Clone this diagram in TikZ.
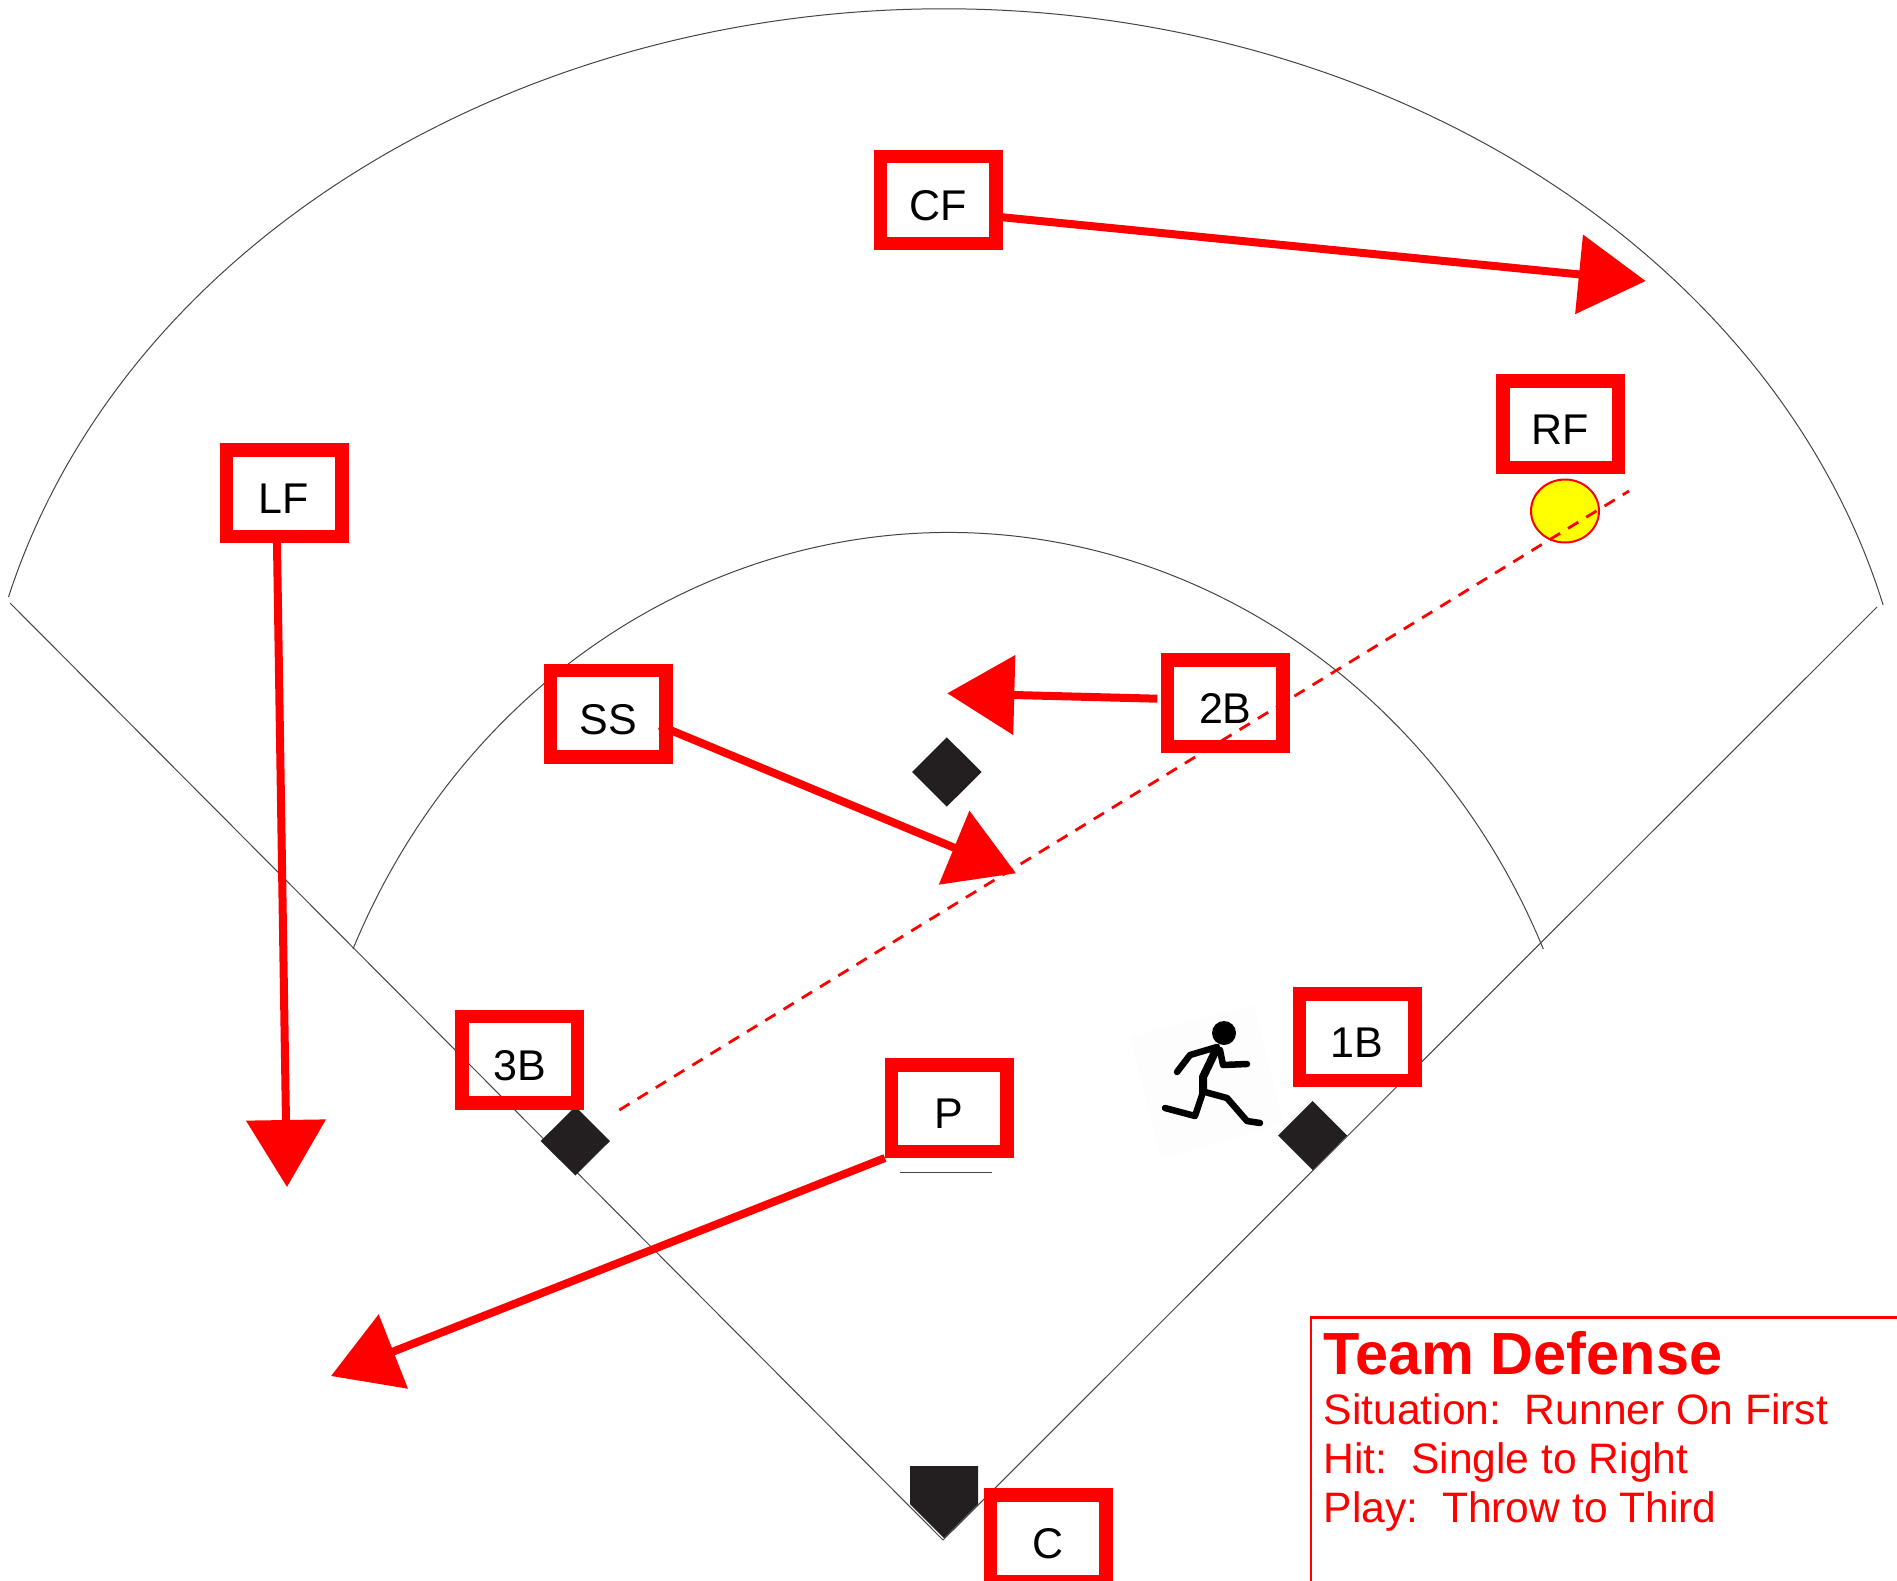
\documentclass[tikz,border=0pt]{standalone}
\usepackage{fontspec}
\setmainfont{Liberation Sans}
\usetikzlibrary{arrows.meta,shapes.geometric}
\definecolor{fieldline}{HTML}{444444}
\definecolor{basecol}{HTML}{231F20}
\definecolor{paper}{HTML}{FDFDFD}
\definecolor{ballyellow}{RGB}{255,255,0}
\definecolor{pure}{RGB}{255,0,0}
\tikzset{
  x=1pt,y=-1pt,
  player/.style={draw=pure,line width=13.5pt,minimum width=115.5pt,minimum height=86.5pt,inner sep=0pt,font=\fontsize{43}{43}\selectfont,text height=31pt,text depth=0pt},
  move/.style={draw=pure,line width=8pt,-{Triangle[length=67pt,width=78pt,inset=0pt]}},
  field/.style={draw=fieldline,line width=1pt},
  basebag/.style={fill=basecol,draw=none},
  throwline/.style={draw=pure,line width=2.8pt,dash pattern=on 12pt off 9.4pt},
  legendtitle/.style={text=pure,anchor=base west,inner sep=0pt,font=\fontsize{59.5}{59.5}\selectfont\bfseries},
  legendtext/.style={text=pure,anchor=base west,inner sep=0pt,font=\fontsize{42.6}{42.6}\selectfont},
  limb/.style={draw=black,line width=6.5pt,line cap=round,line join=round}
}
\newcommand{\plabel}[1]{\raisebox{-5pt}{#1}}
\begin{document}
\begin{tikzpicture}
\useasboundingbox (0,0) rectangle (1897,1581);
\clip (0,0) rectangle (1897,1581);
\fill[white] (0,0) rectangle (1897,1581);
% field
\draw[field] (10,603) -- (943,1540) -- (1877,607);
\draw[field] (8.5,597) arc[start angle=165.13,end angle=14.27,x radius=968.5pt,y radius=791pt];
\draw[field] (353,949) arc[start angle=156.1,end angle=23.9,x radius=651pt,y radius=700pt];
\draw[field] (900,1172) -- (992,1172);
% bases
\fill[basebag] (946.7,737.3) -- (981.7,772) -- (946.7,806.7) -- (912,772) -- cycle;
\fill[basebag] (575.3,1106.5) -- (610,1141) -- (575.3,1175.5) -- (540.7,1141) -- cycle;
\fill[basebag] (1312.5,1101) -- (1347,1135.5) -- (1312.5,1170) -- (1278,1135.5) -- cycle;
\fill[basebag] (910,1466) -- (978,1466) -- (978,1504) -- (944,1538) -- (910,1504) -- cycle;
% runner
\fill[paper] (1130,1037) -- (1253,1005) -- (1283,1123) -- (1162,1159) -- cycle;
\fill[black] (1224,1033) circle[radius=12pt];
\draw[limb] (1217,1047) -- (1190,1055) -- (1177,1072);
\draw[limb] (1220,1050) -- (1223,1065) -- (1247,1064);
\draw[limb,line width=8pt] (1215,1052) -- (1203,1077) -- (1203,1092);
\draw[limb] (1203,1092) -- (1195,1116) -- (1165,1108);
\draw[limb] (1205,1092) -- (1227,1098) -- (1247,1121) -- (1260,1123);
% ball and throw
\node[ellipse,draw=pure,fill=ballyellow,line width=2pt,minimum width=68pt,minimum height=63pt,inner sep=0pt] (ball) at (1565,511) {};
\coordinate (thS) at (619.3,1110);
\coordinate (thE) at (1629,491);
\draw[throwline] (thS) -- (thE);
% players
\node[player] (CF) at (938,200) {\plabel{CF}};
\node[player] (RF) at (1560.5,424) {\plabel{RF}};
\node[player] (LF) at (284,493) {\plabel{LF}};
\node[player] (SS) at (608,713.7) {\plabel{SS}};
\node[player] (2B) at (1225.3,703.3) {\plabel{2B}};
\node[player] (3B) at (519.5,1059.5) {\plabel{3B}};
\node[player] (P) at (949,1108) {\plabel{P}};
\node[player] (1B) at (1357,1037) {\plabel{1B}};
\node[player] (C) at (1048,1538) {\plabel{C}};
% moves
\coordinate (cfT) at (1645.7,281);
\coordinate (lfT) at (287,1187);
\coordinate (ssT) at (1016,873.3);
\coordinate (sbT) at (947.3,693.3);
\coordinate (pT) at (331,1376);
\draw[move] (CF.-15) -- (cfT);
\draw[move] (LF.262) -- (lfT);
\draw[move,shorten <=-14pt] (SS.-15.4) -- (ssT);
\draw[move,shorten <=3.5pt] (2B.176) -- (sbT);
\draw[move] (P.218) -- (pT);
% legend
\draw[pure,line width=2.5pt] (1311,1590) -- (1311,1317.5) -- (1900,1317.5);
\node[legendtitle] (title) at (1323,1374) {Team Defense};
\node[legendtext] (sit) at (1323.5,1424) {Situation:\ \ Runner On First};
\node[legendtext] (hit) at (1323.5,1473) {Hit:\ \ Single to Right};
\node[legendtext] (play) at (1323.5,1522) {Play:\ \ Throw to Third};
\end{tikzpicture}
\end{document}
